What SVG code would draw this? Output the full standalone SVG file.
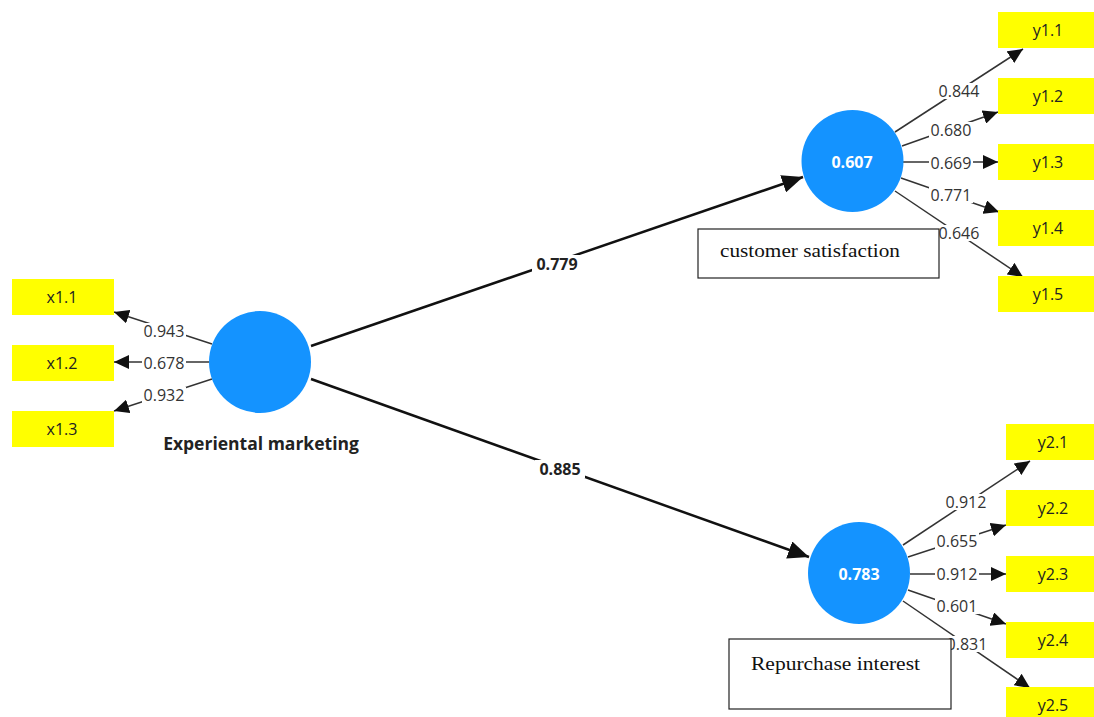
<svg xmlns="http://www.w3.org/2000/svg" width="1094" height="717" viewBox="0 0 1094 717">
<defs>
<style>
.ind{fill:#ffff00}
.indt{font-family:"Open Sans","Noto Sans",sans-serif;font-size:16px;fill:#222;text-anchor:middle}
.lv{fill:#1493ff}
.lvt{font-family:"Open Sans","Noto Sans",sans-serif;font-size:16px;font-weight:bold;fill:#fff;text-anchor:middle}
.ld{stroke:#333;stroke-width:1.5;fill:none}
.pth{stroke:#111;stroke-width:2.5;fill:none}
.bg{fill:#fff}
.ldt{font-family:"Open Sans","Noto Sans",sans-serif;font-size:16px;fill:#333;text-anchor:middle}
.pt{font-family:"Open Sans","Noto Sans",sans-serif;font-size:16px;font-weight:bold;fill:#222;text-anchor:middle}
.cap{fill:#fff;stroke:#222;stroke-width:1.2}
.capt{font-family:"Liberation Serif","DejaVu Serif",serif;font-size:19px;fill:#111}
</style>
<marker id="a" markerUnits="userSpaceOnUse" markerWidth="16" markerHeight="14" refX="15" refY="7" orient="auto">
<path d="M0,0 L15,7 L0,14 z" fill="#111"/>
</marker>
<marker id="b" markerUnits="userSpaceOnUse" markerWidth="22" markerHeight="18" refX="21" refY="9" orient="auto">
<path d="M0,0 L21,9 L0,18 z" fill="#111"/>
</marker>
</defs>
<rect width="1094" height="717" fill="#fff"/>

<g id="connectors">
<line class="pth" x1="311" y1="346" x2="803" y2="177" marker-end="url(#b)"/>
<line class="pth" x1="311" y1="379" x2="809" y2="557" marker-end="url(#b)"/>
<line class="ld" x1="212" y1="344" x2="114" y2="312" marker-end="url(#a)"/>
<line class="ld" x1="209" y1="362" x2="114" y2="362" marker-end="url(#a)"/>
<line class="ld" x1="212" y1="379" x2="114" y2="411" marker-end="url(#a)"/>
<line class="ld" x1="895" y1="132" x2="1023" y2="49" marker-end="url(#a)"/>
<line class="ld" x1="902" y1="146" x2="998" y2="112" marker-end="url(#a)"/>
<line class="ld" x1="903" y1="162" x2="998" y2="162" marker-end="url(#a)"/>
<line class="ld" x1="901" y1="178" x2="999" y2="212" marker-end="url(#a)"/>
<line class="ld" x1="895" y1="191" x2="1023" y2="277" marker-end="url(#a)"/>
<line class="ld" x1="903" y1="545" x2="1030" y2="461" marker-end="url(#a)"/>
<line class="ld" x1="908" y1="557" x2="1006" y2="525" marker-end="url(#a)"/>
<line class="ld" x1="910" y1="574" x2="1006" y2="574" marker-end="url(#a)"/>
<line class="ld" x1="908" y1="590" x2="1006" y2="624" marker-end="url(#a)"/>
<line class="ld" x1="903" y1="601" x2="1030" y2="688" marker-end="url(#a)"/>
<rect class="bg" x="532" y="255" width="50" height="18"/>
<rect class="bg" x="535" y="460" width="50" height="18"/>
<rect class="bg" x="142" y="323" width="44" height="16"/>
<rect class="bg" x="142" y="355" width="44" height="16"/>
<rect class="bg" x="142" y="387" width="44" height="16"/>
<rect class="bg" x="937" y="83" width="44" height="16"/>
<rect class="bg" x="929" y="122" width="44" height="16"/>
<rect class="bg" x="929" y="155" width="44" height="16"/>
<rect class="bg" x="929" y="187" width="44" height="16"/>
<rect class="bg" x="937" y="225" width="44" height="16"/>
<rect class="bg" x="944" y="494" width="44" height="16"/>
<rect class="bg" x="935" y="533" width="44" height="16"/>
<rect class="bg" x="935" y="566" width="44" height="16"/>
<rect class="bg" x="935" y="598" width="44" height="16"/>
<rect class="bg" x="945" y="636" width="44" height="16"/>
<text class="pt" x="557" y="270">0.779</text>
<text class="pt" x="560" y="475">0.885</text>
<text class="ldt" x="164" y="337">0.943</text>
<text class="ldt" x="164" y="369">0.678</text>
<text class="ldt" x="164" y="401">0.932</text>
<text class="ldt" x="959" y="97">0.844</text>
<text class="ldt" x="951" y="136">0.680</text>
<text class="ldt" x="951" y="169">0.669</text>
<text class="ldt" x="951" y="201">0.771</text>
<text class="ldt" x="959" y="239">0.646</text>
<text class="ldt" x="966" y="508">0.912</text>
<text class="ldt" x="957" y="547">0.655</text>
<text class="ldt" x="957" y="580">0.912</text>
<text class="ldt" x="957" y="612">0.601</text>
<text class="ldt" x="967" y="650">0.831</text>
</g>

<g id="x1.1"><rect class="ind" x="12" y="279" width="102" height="36"/><text class="indt" x="62" y="303">x1.1</text></g>
<g id="x1.2"><rect class="ind" x="12" y="345" width="102" height="36"/><text class="indt" x="62" y="369">x1.2</text></g>
<g id="x1.3"><rect class="ind" x="12" y="411" width="102" height="36"/><text class="indt" x="62" y="435">x1.3</text></g>

<g id="experiental-marketing">
<circle class="lv" cx="260" cy="362" r="51"/>
<text x="261" y="450" font-family="'Open Sans','Noto Sans',sans-serif" font-size="17.5" font-weight="bold" fill="#222" text-anchor="middle">Experiental marketing</text>
</g>

<g id="customer-satisfaction">
<circle class="lv" cx="852.5" cy="161" r="51"/>
<text class="lvt" x="852" y="168">0.607</text>
<rect class="cap" x="698" y="229" width="241" height="49"/>
<text class="capt" x="720" y="257" textLength="180" lengthAdjust="spacingAndGlyphs">customer satisfaction</text>
</g>

<g id="repurchase-interest">
<circle class="lv" cx="859" cy="573" r="51"/>
<text class="lvt" x="859" y="580">0.783</text>
<rect class="cap" x="729" y="639" width="222" height="70"/>
<text class="capt" x="751" y="670" textLength="169" lengthAdjust="spacingAndGlyphs">Repurchase interest</text>
</g>

<g id="y1.1"><rect class="ind" x="998" y="12" width="96" height="36"/><text class="indt" x="1048" y="36">y1.1</text></g>
<g id="y1.2"><rect class="ind" x="998" y="78" width="96" height="36"/><text class="indt" x="1048" y="102">y1.2</text></g>
<g id="y1.3"><rect class="ind" x="998" y="144" width="96" height="36"/><text class="indt" x="1048" y="168">y1.3</text></g>
<g id="y1.4"><rect class="ind" x="998" y="210" width="96" height="36"/><text class="indt" x="1048" y="234">y1.4</text></g>
<g id="y1.5"><rect class="ind" x="998" y="276" width="96" height="36"/><text class="indt" x="1048" y="300">y1.5</text></g>

<g id="y2.1"><rect class="ind" x="1006" y="424" width="88" height="36"/><text class="indt" x="1053" y="448">y2.1</text></g>
<g id="y2.2"><rect class="ind" x="1006" y="490" width="88" height="36"/><text class="indt" x="1053" y="514">y2.2</text></g>
<g id="y2.3"><rect class="ind" x="1006" y="556" width="88" height="36"/><text class="indt" x="1053" y="580">y2.3</text></g>
<g id="y2.4"><rect class="ind" x="1006" y="622" width="88" height="36"/><text class="indt" x="1053" y="646">y2.4</text></g>
<g id="y2.5"><rect class="ind" x="1006" y="687" width="88" height="36"/><text class="indt" x="1053" y="711">y2.5</text></g>
</svg>
